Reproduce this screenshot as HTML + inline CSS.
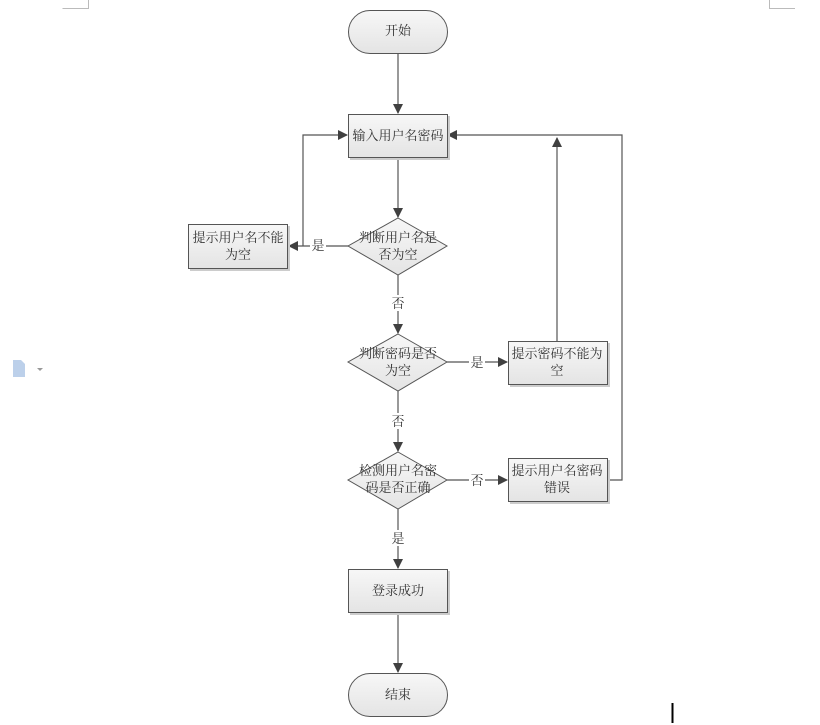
<!DOCTYPE html>
<html><head><meta charset="utf-8"><style>
html,body{margin:0;padding:0;background:#fff;}
svg{display:block;}
text{font-family:"Liberation Serif","Noto Serif CJK SC","WenQuanYi Zen Hei",serif;font-size:13px;fill:#333;text-anchor:middle;}
</style></head><body>
<svg width="820" height="725" viewBox="0 0 820 725" xmlns="http://www.w3.org/2000/svg">
<defs>
<linearGradient id="g" x1="0" y1="0" x2="0" y2="1"><stop offset="0" stop-color="#f7f7f7"/><stop offset="1" stop-color="#e4e4e4"/></linearGradient>
<marker id="a" markerWidth="10" markerHeight="10" refX="9" refY="5" orient="auto" markerUnits="userSpaceOnUse"><path d="M0,0 L10,5 L0,10 Z" fill="#404040"/></marker>
</defs>
<g stroke="#bbb" fill="none" stroke-width="1">
<path d="M62.5,8.5 H88.5 V0"/><path d="M769.5,0 V8.5 H795"/>
</g>
<!-- doc icon -->
<g><path d="M13,360 h8 l4,4 v13 h-12 z" fill="#bcd0ea"/><path d="M37,368 h6 l-3,3 z" fill="#999"/></g>
<line x1="672.5" y1="703" x2="672.5" y2="723" stroke="#000" stroke-width="2"/>
<g stroke="#555" stroke-width="1.2" fill="none">
<line x1="398" y1="53" x2="398" y2="113" marker-end="url(#a)"/>
<line x1="398" y1="157" x2="398" y2="217" marker-end="url(#a)"/>
<line x1="348" y1="246" x2="289" y2="246" marker-end="url(#a)"/>
<polyline points="303,246 303,135 347,135" marker-end="url(#a)"/>
<line x1="398" y1="275" x2="398" y2="333" marker-end="url(#a)"/>
<line x1="447" y1="362" x2="507" y2="362" marker-end="url(#a)"/>
<line x1="557" y1="341" x2="557" y2="138" marker-end="url(#a)"/>
<line x1="398" y1="391" x2="398" y2="451" marker-end="url(#a)"/>
<line x1="447" y1="480" x2="507" y2="480" marker-end="url(#a)"/>
<polyline points="607,480 622,480 622,135 448,135" marker-end="url(#a)"/>
<line x1="398" y1="509" x2="398" y2="568" marker-end="url(#a)"/>
<line x1="398" y1="612" x2="398" y2="672" marker-end="url(#a)"/>
</g>
<g fill="#fff" stroke="none">
<rect x="310" y="238" width="16" height="16"/><rect x="390" y="295" width="16" height="16"/>
<rect x="469" y="354" width="16" height="16"/><rect x="390" y="413" width="16" height="16"/>
<rect x="469" y="472" width="16" height="16"/><rect x="390" y="530" width="16" height="16"/>
</g>
<g fill="#ccc" stroke="none">
<rect x="350" y="116" width="100" height="44"/><rect x="190" y="226" width="100" height="45"/>
<rect x="510" y="343" width="100" height="44"/><rect x="510" y="460" width="100" height="44"/>
<rect x="350" y="571" width="100" height="44"/>
</g>
<g fill="url(#g)" stroke="#555" stroke-width="1">
<rect x="348.5" y="10.5" width="99" height="43" rx="21.5"/>
<rect x="348.5" y="114.5" width="99" height="43"/>
<rect x="188.5" y="224.5" width="99" height="44"/>
<polygon points="398,218 447,246 398,275 348,246"/>
<polygon points="398,334 447,362 398,391 348,362"/>
<rect x="508.5" y="341.5" width="99" height="43"/>
<polygon points="398,452 447,480 398,509 348,480"/>
<rect x="508.5" y="458.5" width="99" height="43"/>
<rect x="348.5" y="569.5" width="99" height="43"/>
<rect x="348.5" y="673.5" width="99" height="43" rx="21.5"/>
</g>
<text x="398" y="35">开始</text>
<text x="398" y="140">输入用户名密码</text>
<text x="238" y="242">提示用户名不能</text><text x="238" y="259">为空</text>
<text x="398" y="242">判断用户名是</text><text x="398" y="259">否为空</text>
<text x="318" y="250">是</text>
<text x="398" y="308">否</text>
<text x="398" y="358">判断密码是否</text><text x="398" y="375">为空</text>
<text x="477" y="367">是</text>
<text x="557" y="358">提示密码不能为</text><text x="557" y="375">空</text>
<text x="398" y="426">否</text>
<text x="398" y="475">检测用户名密</text><text x="398" y="492">码是否正确</text>
<text x="477" y="485">否</text>
<text x="557" y="475">提示用户名密码</text><text x="557" y="492">错误</text>
<text x="398" y="543">是</text>
<text x="398" y="595">登录成功</text>
<text x="398" y="699">结束</text>
</svg>
</body></html>
